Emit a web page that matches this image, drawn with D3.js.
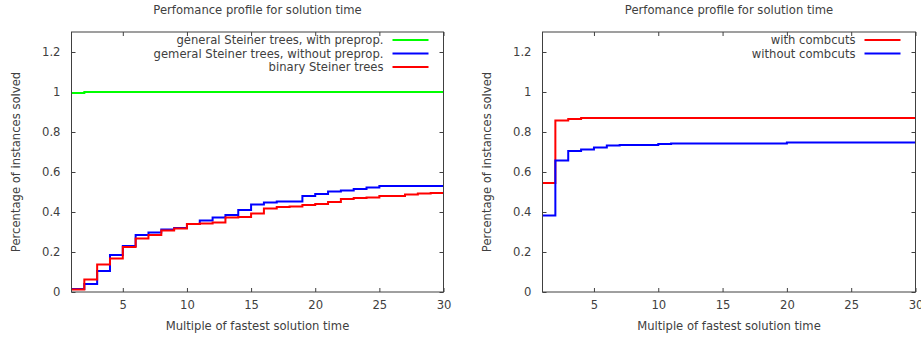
<!DOCTYPE html>
<html>
<head>
<meta charset="utf-8">
<script src="https://cdn.jsdelivr.net/npm/d3@7"></script>
<style>
  body { margin: 0; background: #fff; }
  svg { display: block; font-family: 'DejaVu Sans', sans-serif; }
</style>
</head>
<body>
<div id="chart"></div>
<script>
// x positions (multiple of fastest solution time)
const steps = d3.range(1, 31);

// left panel: steiner tree variants
const greenWithPreprop = [0.995, 1, 1, 1, 1, 1, 1, 1, 1, 1, 1, 1, 1, 1, 1, 1, 1, 1, 1, 1, 1, 1, 1, 1, 1, 1, 1, 1, 1, 1];
const blueWithoutPreprop = [0.015, 0.04, 0.105, 0.185, 0.23, 0.285, 0.298, 0.313, 0.32, 0.34, 0.357, 0.372, 0.385, 0.41, 0.437,
  0.448, 0.453, 0.453, 0.48, 0.49, 0.503, 0.508, 0.515, 0.522, 0.53, 0.53, 0.53, 0.53, 0.53, 0.53];
const redBinary = [0.013, 0.063, 0.138, 0.168, 0.225, 0.268, 0.285, 0.307, 0.318, 0.34, 0.343, 0.348, 0.373, 0.375, 0.393,
  0.417, 0.425, 0.428, 0.435, 0.44, 0.45, 0.465, 0.47, 0.472, 0.48, 0.48, 0.488, 0.493, 0.495, 0.495];

// right panel: combcuts
const redWithCombcuts = [0.545, 0.858, 0.865, 0.87, 0.87, 0.87, 0.87, 0.87, 0.87, 0.87, 0.87, 0.87, 0.87, 0.87, 0.87,
  0.87, 0.87, 0.87, 0.87, 0.87, 0.87, 0.87, 0.87, 0.87, 0.87, 0.87, 0.87, 0.87, 0.87, 0.87];
const blueWithoutCombcuts = [0.383, 0.658, 0.705, 0.712, 0.722, 0.733, 0.735, 0.735, 0.735, 0.74, 0.743, 0.743, 0.743, 0.743, 0.743,
  0.743, 0.743, 0.743, 0.743, 0.748, 0.748, 0.748, 0.748, 0.748, 0.748, 0.748, 0.748, 0.748, 0.748, 0.748];

const xTicks = [5, 10, 15, 20, 25, 30];
const yTicks = [0, 0.2, 0.4, 0.6, 0.8, 1, 1.2];

const titleText = 'Perfomance profile for solution time';
const xLabel = 'Multiple of fastest solution time';
const yLabel = 'Percentage of instances solved';

const ink = '#404040';
const fontSize = 11.6;

const svg = d3.select('#chart')
  .append('svg')
  .attr('width', 921)
  .attr('height', 338);

function drawPanel(opts) {
  const { left, right, series } = opts;
  const top = 32;
  const bottom = 292;

  const x = d3.scaleLinear().domain([1, 30]).range([left, right]);
  const y = d3.scaleLinear().domain([0, 1.3]).range([bottom, top]);

  const g = svg.append('g');

  // title
  g.append('text')
    .attr('x', (left + right) / 2)
    .attr('y', 14)
    .attr('text-anchor', 'middle')
    .attr('font-size', fontSize)
    .attr('fill', ink)
    .text(titleText);

  const styleAxis = (a) => {
    a.select('.domain').remove();
    a.selectAll('line').attr('stroke', ink);
    a.selectAll('text').attr('fill', ink).attr('font-size', fontSize).attr('font-family', 'DejaVu Sans, sans-serif');
  };

  // bottom + top ticks (gnuplot mirrors, inward)
  g.append('g')
    .attr('transform', `translate(0,${bottom})`)
    .call(d3.axisBottom(x).tickValues(xTicks).tickSizeInner(-4).tickSizeOuter(0).tickPadding(9))
    .call(styleAxis);
  g.append('g')
    .attr('transform', `translate(0,${top})`)
    .call(d3.axisTop(x).tickValues(xTicks).tickSizeInner(-4).tickSizeOuter(0).tickFormat(''))
    .call(styleAxis);

  // left + right ticks
  g.append('g')
    .attr('transform', `translate(${left},0)`)
    .call(d3.axisLeft(y).tickValues(yTicks).tickSizeInner(-4).tickSizeOuter(0).tickPadding(11).tickFormat(d3.format('~g')))
    .call(styleAxis);
  g.append('g')
    .attr('transform', `translate(${right},0)`)
    .call(d3.axisRight(y).tickValues(yTicks).tickSizeInner(-4).tickSizeOuter(0).tickFormat(''))
    .call(styleAxis);

  // axis labels
  g.append('text')
    .attr('x', (left + right) / 2)
    .attr('y', 330)
    .attr('text-anchor', 'middle')
    .attr('font-size', fontSize)
    .attr('fill', ink)
    .text(xLabel);
  g.append('text')
    .attr('transform', `translate(${left - 52},${(top + bottom) / 2}) rotate(-90)`)
    .attr('text-anchor', 'middle')
    .attr('font-size', fontSize)
    .attr('fill', ink)
    .text(yLabel);

  // step lines
  const line = d3.line()
    .curve(d3.curveStepAfter)
    .x((d, i) => x(steps[i]))
    .y((d) => y(d));

  series.forEach((s) => {
    g.append('path')
      .datum(s.values)
      .attr('fill', 'none')
      .attr('stroke', s.color)
      .attr('stroke-width', 2)
      .attr('d', line);
  });

  // legend (right aligned, top right)
  const legend = g.append('g');
  series.forEach((s, i) => {
    const ly = 40 + i * 13.5;
    legend.append('text')
      .attr('x', right - 60)
      .attr('y', ly)
      .attr('dy', '0.35em')
      .attr('text-anchor', 'end')
      .attr('font-size', fontSize)
      .attr('fill', ink)
      .text(s.name);
    legend.append('line')
      .attr('x1', right - 51)
      .attr('x2', right - 15)
      .attr('y1', ly)
      .attr('y2', ly)
      .attr('stroke', s.color)
      .attr('stroke-width', 2);
  });

  // frame
  g.append('rect')
    .attr('x', left)
    .attr('y', top)
    .attr('width', right - left)
    .attr('height', bottom - top)
    .attr('fill', 'none')
    .attr('stroke', ink)
    .attr('stroke-width', 1);
}

drawPanel({
  left: 71.5,
  right: 443.5,
  series: [
    { name: 'general Steiner trees, with preprop.', values: greenWithPreprop, color: '#00ff00' },
    { name: 'gemeral Steiner trees, without preprop.', values: blueWithoutPreprop, color: '#0000ff' },
    { name: 'binary Steiner trees', values: redBinary, color: '#ff0000' },
  ],
});

drawPanel({
  left: 542.5,
  right: 915.5,
  series: [
    { name: 'with combcuts', values: redWithCombcuts, color: '#ff0000' },
    { name: 'without combcuts', values: blueWithoutCombcuts, color: '#0000ff' },
  ],
});
</script>
</body>
</html>
